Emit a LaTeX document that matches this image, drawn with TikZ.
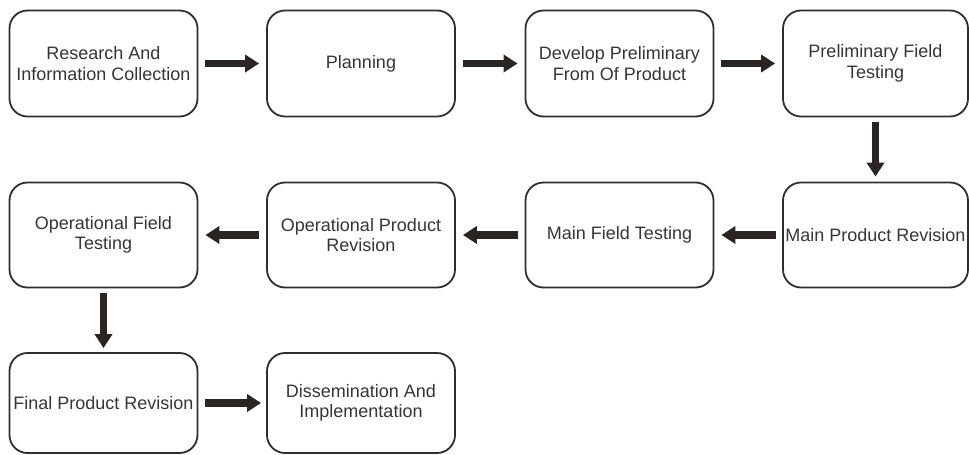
\documentclass[tikz,border=0pt]{standalone}
\usepackage{fontspec}
\setmainfont{Liberation Sans}
\usetikzlibrary{arrows.meta}
\definecolor{boxline}{HTML}{2E2E2E}
\definecolor{arrowcol}{HTML}{2A2523}
\definecolor{txt}{HTML}{353535}
\begin{document}
\begin{tikzpicture}[x=1pt,y=-1pt,
  stepbox/.style={draw=boxline, line width=1.8pt, rounded corners=18pt,
    minimum width=188pt, minimum height=106pt, inner sep=0pt, align=center,
    text=txt, font=\fontsize{18}{20.5}\selectfont},
  flowarrow/.style={draw=arrowcol, line width=7.5pt,
    -{Triangle[width=17pt,length=14pt]}}]
\useasboundingbox (0,0) rectangle (969,455);
% row 1
\node[stepbox] (a) at (103.5,63.5) {Research And\\Information Collection};
\node[stepbox] (b) at (361,63.5) {Planning};
\node[stepbox] (c) at (619.5,63.5) {Develop Preliminary\\From Of Product};
\node[stepbox, minimum width=185pt] (d) at (875.5,63.5) {Preliminary Field\\Testing};
% row 2
\node[stepbox] (e) at (875.5,235) [minimum width=185pt, minimum height=105pt] {Main Product Revision};
\node[stepbox, minimum height=105pt] (f) at (619.5,235) {Main Field Testing};
\node[stepbox, minimum height=105pt] (g) at (361,235) {Operational Product\\Revision};
\node[stepbox, minimum height=105pt] (h) at (103.5,235) {Operational Field\\Testing};
% row 3
\node[stepbox, minimum height=100pt] (i) at (103.5,403) {Final Product Revision};
\node[stepbox, minimum height=100pt] (j) at (361,403) {Dissemination And\\Implementation};
% arrows
\draw[flowarrow, shorten <=7pt, shorten >=7pt] (a.east) -- (b.west);
\draw[flowarrow, shorten <=7pt, shorten >=7pt] (b.east) -- (c.west);
\draw[flowarrow, shorten <=7pt, shorten >=7pt] (c.east) -- (d.west);
\draw[flowarrow, shorten <=5pt, shorten >=5pt] (d.south) -- (e.north);
\draw[flowarrow, shorten <=6pt, shorten >=7pt] (e.west) -- (f.east);
\draw[flowarrow, shorten <=7pt, shorten >=7pt] (f.west) -- (g.east);
\draw[flowarrow, shorten <=7pt, shorten >=7pt] (g.west) -- (h.east);
\draw[flowarrow, shorten <=5pt, shorten >=4pt] (h.south) -- (i.north);
\draw[flowarrow, shorten <=7pt, shorten >=5pt] (i.east) -- (j.west);
\end{tikzpicture}
\end{document}
